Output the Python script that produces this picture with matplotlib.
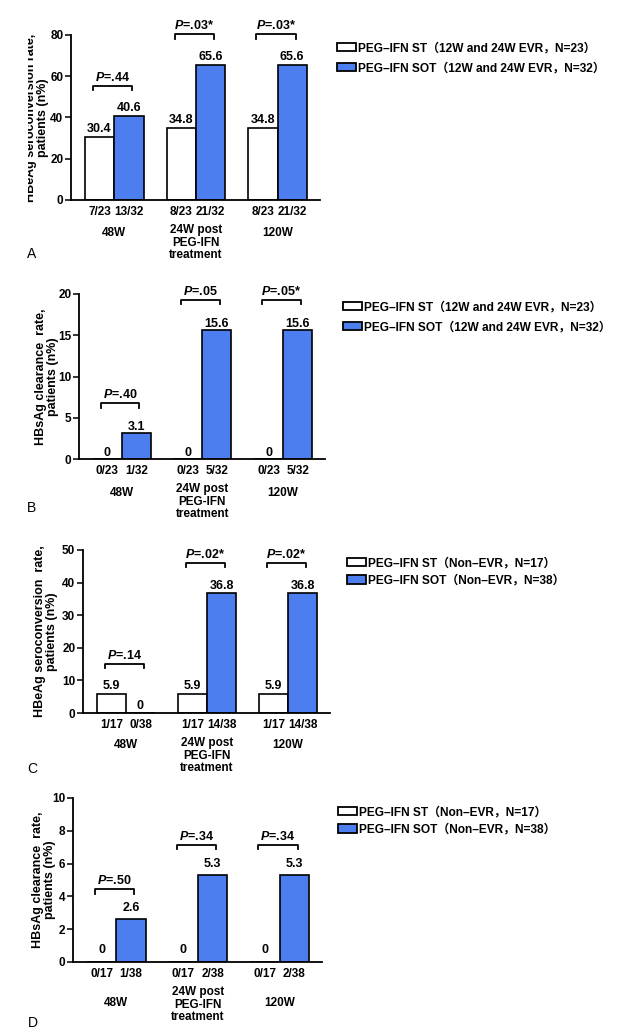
import matplotlib.pyplot as plt
from matplotlib.patches import Patch
from matplotlib.transforms import Bbox, TransformedBbox

plt.rcParams['font.family'] = ['Liberation Sans', 'Noto Sans CJK SC']
plt.rcParams['font.weight'] = 'bold'
plt.rcParams['mathtext.fontset'] = 'custom'
plt.rcParams['mathtext.it'] = 'Liberation Sans:italic:bold'
plt.rcParams['mathtext.rm'] = 'Liberation Sans:bold'

# ---- data ----
groups = ['48W', '24W post\nPEG-IFN\ntreatment', '120W']

a_st = [30.4, 34.8, 34.8]
a_sot = [40.6, 65.6, 65.6]
a_frac = [['7/23', '13/32'], ['8/23', '21/32'], ['8/23', '21/32']]
a_p = ['.44', '.03*', '.03*']

b_st = [0, 0, 0]
b_sot = [3.1, 15.6, 15.6]
b_frac = [['0/23', '1/32'], ['0/23', '5/32'], ['0/23', '5/32']]
b_p = ['.40', '.05', '.05*']

c_st = [5.9, 5.9, 5.9]
c_sot = [0, 36.8, 36.8]
c_frac = [['1/17', '0/38'], ['1/17', '14/38'], ['1/17', '14/38']]
c_p = ['.14', '.02*', '.02*']

d_st = [0, 0, 0]
d_sot = [2.6, 5.3, 5.3]
d_frac = [['0/17', '1/38'], ['0/17', '2/38'], ['0/17', '2/38']]
d_p = ['.50', '.34', '.34']

legend_evr = ['PEG–IFN ST（12W and 24W EVR，N=23）',
              'PEG–IFN SOT（12W and 24W EVR，N=32）']
legend_non = ['PEG–IFN ST（Non–EVR，N=17）',
              'PEG–IFN SOT（Non–EVR，N=38）']

ylab_e = 'HBeAg seroconversion  rate,\npatients (n%)'
ylab_s = 'HBsAg clearance  rate,\npatients (n%)'

BLUE = '#4d7ef0'
W, H = 624, 1034
fig = plt.figure(figsize=(W / 100, H / 100), dpi=100)


def panel(letter, box, ymax, ystep, st, sot, frac, pvals, ylab, ylab_x,
          leg_labels, leg_xy, leg_space, val_pad, cat_off, letter_xy, clip_x=None):
    l, r, t, b = box
    ax = fig.add_axes([l / W, 1 - b / H, (r - l) / W, (b - t) / H])
    x = list(range(len(groups)))
    w = 0.36
    ax.bar([i - w / 2 for i in x], st, w, color='white', edgecolor='black', linewidth=1.2)
    ax.bar([i + w / 2 for i in x], sot, w, color=BLUE, edgecolor='black', linewidth=1.2)
    ax.set_xlim(-0.53, 2.52)
    ax.set_ylim(0, ymax)
    ax.set_yticks(range(0, ymax + 1, ystep))
    ax.set_xticks([])
    for s in ['top', 'right']:
        ax.spines[s].set_visible(False)
    for s in ['left', 'bottom']:
        ax.spines[s].set_linewidth(1.3)
    ax.tick_params(axis='y', length=4, width=1.1, labelsize=8.5, pad=1.5)

    for i in x:
        for j, (v, xx) in enumerate([(st[i], i - w / 2), (sot[i], i + w / 2)]):
            ax.annotate(f'{v:g}', (xx, v), xytext=(0, val_pad), textcoords='offset points',
                        ha='center', va='bottom', fontsize=9, annotation_clip=False)
            ax.annotate(frac[i][j], (xx, 0), xycoords=('data', 'axes fraction'),
                        xytext=(0, -4.5), textcoords='offset points',
                        ha='center', va='top', fontsize=8.5, annotation_clip=False)
        # group label
        if '\n' in groups[i]:
            ax.annotate(groups[i], (i, 0), xycoords=('data', 'axes fraction'),
                        xytext=(0, -17), textcoords='offset points', ha='center',
                        va='top', fontsize=8.5, linespacing=1.1, annotation_clip=False)
        else:
            ax.annotate(groups[i], (i, 0), xycoords=('data', 'axes fraction'),
                        xytext=(0, -cat_off * 0.72), textcoords='offset points',
                        ha='center', va='center', fontsize=8.5, annotation_clip=False)
        # significance bracket
        yb = max(st[i], sot[i]) + 0.185 * ymax
        leg = 0.028 * ymax
        xc = i - 0.02
        ax.plot([xc - 0.24, xc - 0.24, xc + 0.24, xc + 0.24],
                [yb - leg, yb, yb, yb - leg], color='black', lw=1.3, clip_on=False)
        ax.annotate('$P$=' + pvals[i], (xc, yb), xytext=(0, 1.5), textcoords='offset points',
                    ha='center', va='bottom', fontsize=9, annotation_clip=False)

    yl = fig.text(ylab_x / W, 1 - (t + b) / 2 / H, ylab, rotation=90, ha='center',
                  va='center', multialignment='center', fontsize=9, linespacing=1.1)
    if clip_x is not None:
        yl.set_clip_box(TransformedBbox(Bbox([[clip_x / 100, 0], [W / 100, H / 100]]),
                                        fig.dpi_scale_trans))
        yl.set_clip_on(True)

    handles = [Patch(facecolor='white', edgecolor='black', linewidth=1.3),
               Patch(facecolor=BLUE, edgecolor='black', linewidth=1.3)]
    fig.legend(handles, leg_labels, loc='upper left',
               bbox_to_anchor=(leg_xy[0] / W, 1 - leg_xy[1] / H), frameon=False,
               fontsize=8.6, handlelength=1.55, handleheight=0.7, handletextpad=0.2,
               labelspacing=leg_space, borderpad=0, borderaxespad=0)
    fig.text(letter_xy[0] / W, 1 - letter_xy[1] / H, letter, ha='center', va='center',
             fontsize=10, fontweight='normal')


panel('A', (71, 320, 35, 200), 80, 20, a_st, a_sot, a_frac, a_p,
      ylab_e.replace('  ', ' '), 37, legend_evr, (337, 42), 0.7, 1.5, 33, (32, 254), clip_x=28)
panel('B', (79, 325, 294, 459), 20, 5, b_st, b_sot, b_frac, b_p,
      ylab_s, 47, legend_evr, (343, 301), 0.7, 0, 34, (32, 508))
panel('C', (83, 330, 550, 713), 50, 10, c_st, c_sot, c_frac, c_p,
      ylab_e, 46, legend_non, (347, 557), 0.47, 1, 32, (32, 769))
panel('D', (73, 322, 798, 962), 10, 2, d_st, d_sot, d_frac, d_p,
      ylab_s, 44, legend_non, (338, 806), 0.47, 4, 41, (33, 1023))

fig.savefig('out.png', dpi=100)
